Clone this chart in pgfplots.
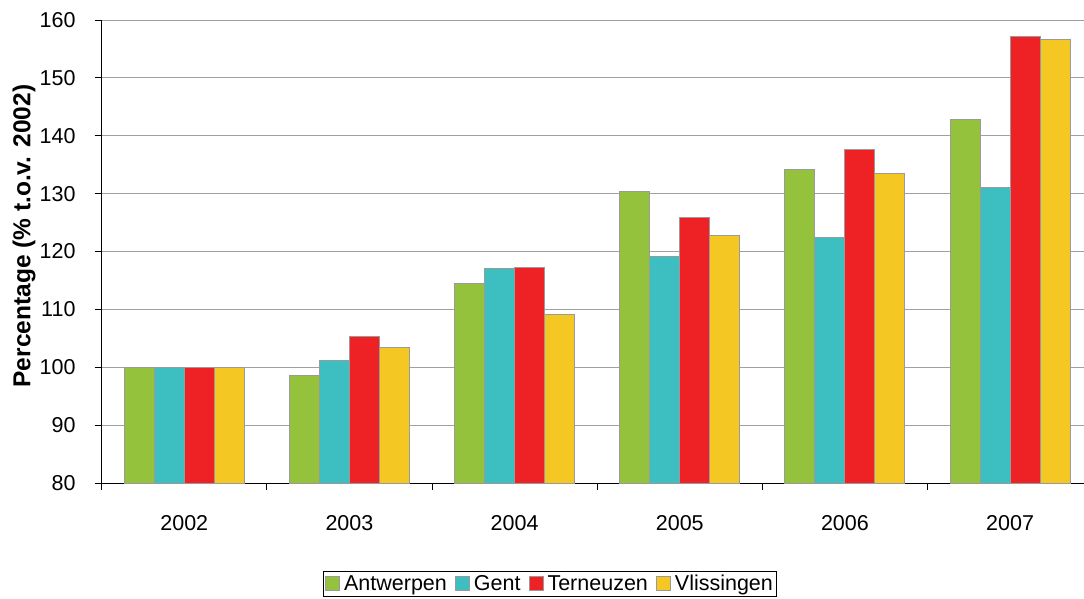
\documentclass[border=0pt]{standalone}
\usepackage{fontspec}
\setmainfont{Liberation Sans}
\usepackage{pgfplots}
\pgfplotsset{compat=1.18}
\definecolor{cA}{HTML}{95C23D}
\definecolor{cG}{HTML}{3DBFC1}
\definecolor{cT}{HTML}{EE2225}
\definecolor{cV}{HTML}{F4C722}
\definecolor{bord}{HTML}{9A9A9A}
\definecolor{gridc}{HTML}{A0A0A0}
\begin{document}
\begin{tikzpicture}[x=1pt,y=1pt]
\useasboundingbox (0,0) rectangle (1084,598);
\begin{axis}[
  at={(101.7pt,115pt)}, anchor=south west,
  scale only axis, width=991pt, height=463pt,
  ymin=80, ymax=160, ytick={80,90,...,160},
  xmin=-0.5, xmax=5.5,
  xtick={-0.5,0.5,1.5,2.5,3.5,4.5,5.5},
  x tick label as interval,
  xticklabels={2002,2003,2004,2005,2006,2007},
  axis x line*=bottom, axis y line*=left,
  axis line style={black, line width=1pt},
  tick style={black, line width=1pt},
  major tick length=7pt, tick align=outside,
  ymajorgrids, grid style={gridc, line width=1pt},
  /pgf/number format/assume math mode=true,
  ticklabel style={font=\fontsize{21.5}{25}\selectfont},
  xticklabel style={inner sep=0pt, anchor=north, yshift=-25pt},
  yticklabel style={inner sep=0pt, anchor=east, xshift=-19pt},
  ylabel={Percentage (\% t.o.v. 2002)},
  ylabel style={font=\fontsize{24.5}{28}\selectfont\bfseries, at={(axis description cs:-0.0784,0.5335)}, anchor=center},
  ybar=0pt, bar width=30pt,
  legend style={at={(0.4524,-0.1894)}, anchor=north, legend columns=-1, draw=black, line width=1pt,
    font=\fontsize{21.5}{25}\selectfont, inner xsep=2pt, inner ysep=2pt,
    /tikz/every odd column/.append style={column sep=2pt},
    /tikz/every even column/.append style={column sep=6pt},
    nodes={inner sep=2pt}},
  legend image code/.code={\draw[#1, line width=1pt] (0pt,-6.5pt) rectangle (14pt,7.5pt);},
]
\addplot[fill=cA, draw=bord, line width=1pt] coordinates {(0,100) (1,98.6) (2,114.5) (3,130.4) (4,134.1) (5,142.8)};
\addplot[fill=cG, draw=bord, line width=1pt] coordinates {(0,100) (1,101.1) (2,117.1) (3,119.2) (4,122.5) (5,131.0)};
\addplot[fill=cT, draw=bord, line width=1pt] coordinates {(0,100) (1,105.4) (2,117.2) (3,125.9) (4,137.7) (5,157.1)};
\addplot[fill=cV, draw=bord, line width=1pt] coordinates {(0,100) (1,103.5) (2,109.1) (3,122.8) (4,133.5) (5,156.7)};
\legend{Antwerpen,Gent,Terneuzen,Vlissingen}
\end{axis}
\end{tikzpicture}
\end{document}
